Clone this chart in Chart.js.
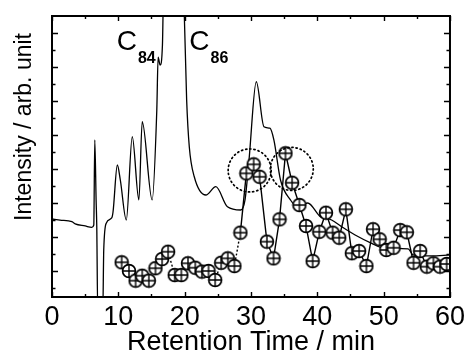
<!DOCTYPE html>
<html>
<head>
<meta charset="utf-8">
<script src="https://cdn.jsdelivr.net/npm/chart.js@4.4.1/dist/chart.umd.min.js"></script>
<style>
  html, body { margin: 0; padding: 0; background: #fff; }
  #wrap { width: 469px; height: 360px; }
</style>
</head>
<body>
<div id="wrap"><canvas id="hplc"></canvas></div>
<script>
// HPLC trace (solid line) and the fractions marked with circles
var traceTime = [0, 1.2, 3.0, 3.5, 5.0, 6.0, 6.3, 6.45, 6.65, 6.75, 6.9, 7.65, 7.8, 8.2, 9.0, 9.2, 9.85, 10.3, 11.2, 12.1,
  13.1, 13.6, 15.1, 15.8, 16.0, 16.3, 16.65, 16.8, 17.3, 18.3, 19.3, 19.95, 20.3, 20.7, 21.45, 23.2, 24.7, 26.45, 28.45, 29.1,
  29.7, 30.8, 31.95, 32.85, 33.45, 34.45, 35.95, 36.95, 38.55, 40.45, 42.15, 43.65, 45.7, 48.2, 50.2, 53.7, 54.45, 57.15, 60];
var traceSignal = [4.08, 4.02, 3.92, 3.79, 3.67, 3.59, 3.73, 8.72, 5.2, 3.63, -1.5, -1.5, 2.26, 3.85, 4.14, 4.49, 7.25, 6.37, 4.02, 8.91,
  5.2, 9.79, 5.2, 10.48, 13.59, 13.12, 14.3, 17.5, 24, 19, 28, 16.0, 11.07, 8.31, 6.56, 5.49, 5.98, 4.8, 4.61, 5.2,
  7.54, 12.14, 9.5, 9.41, 8.72, 6.37, 5.2, 4.8, 5.02, 4.22, 4.02, 3.63, 3.14, 2.65, 2.36, 2.32, 1.97, 1.91, 1.97];

var fracTime = [10.5, 11.6, 12.6, 13.6, 14.6, 15.6, 16.6, 17.5, 18.5, 19.5, 20.5, 21.6, 22.6, 23.6, 24.6, 25.5, 26.5, 27.5, 28.4, 29.3,
  30.4, 31.3, 32.4, 33.4, 34.3, 35.2, 36.2, 37.3, 38.3, 39.3, 40.3, 41.3, 42.3, 43.3, 44.3, 45.2, 46.3, 47.4, 48.4, 49.4,
  50.4, 51.5, 52.5, 53.5, 54.5, 55.5, 56.5, 57.5, 58.5, 59.5];
var fracSignal = [1.54, 1.03, 0.46, 0.75, 0.46, 1.19, 1.73, 2.16, 0.79, 0.79, 1.48, 1.22, 0.99, 1.03, 0.5, 1.51, 1.77, 1.32, 3.28, 6.76,
  7.29, 6.56, 2.75, 1.77, 4.06, 7.94, 6.21, 4.9, 3.67, 1.61, 3.33, 4.45, 3.28, 2.98, 4.65, 2.07, 2.2, 1.32, 3.48, 2.89,
  2.26, 2.39, 3.43, 3.3, 1.51, 2.2, 1.28, 1.48, 1.28, 1.44];

// dotted circles around the two collected peaks
var ringTime = [29.8, 36.15];
var ringSignal = [6.93, 7.02];

// peak labels
var peakNames = ['84', '86'];
var peakTime = [9.75, 20.7];
var peakSignal = [14.0, 14.0];

var xTicks = [0, 10, 20, 30, 40, 50, 60];

var FONT = "'Liberation Sans', Arial, Helvetica, sans-serif";

function plusMarker() {
  var c = document.createElement('canvas');
  c.width = 16; c.height = 16;
  var g = c.getContext('2d');
  g.beginPath();
  g.arc(8, 8, 6.4, 0, Math.PI * 2);
  g.fillStyle = '#fff';
  g.fill();
  g.lineWidth = 1.7;
  g.strokeStyle = '#000';
  g.stroke();
  g.beginPath();
  g.moveTo(1.5, 8); g.lineTo(14.5, 8);
  g.moveTo(8, 1.5); g.lineTo(8, 14.5);
  g.lineWidth = 1.4;
  g.stroke();
  return c;
}

var trace = traceTime.map(function (t, i) { return { x: t, y: traceSignal[i] }; });
var fracs = fracTime.map(function (t, i) { return { x: t, y: fracSignal[i] }; });

// frame, inward ticks, rings and labels
var decor = {
  id: 'decor',
  afterDatasetsDraw: function (chart) {
    var ctx = chart.ctx, a = chart.chartArea, x = chart.scales.x, y = chart.scales.y;
    ctx.save();

    // dotted rings
    ctx.strokeStyle = '#000';
    ctx.lineWidth = 1.7;
    ctx.setLineDash([1.2, 3]);
    ctx.lineCap = 'round';
    for (var i = 0; i < ringTime.length; i++) {
      ctx.beginPath();
      ctx.arc(x.getPixelForValue(ringTime[i]), y.getPixelForValue(ringSignal[i]), 21.5, 0, Math.PI * 2);
      ctx.stroke();
    }
    ctx.setLineDash([]);
    ctx.lineCap = 'butt';

    // box
    ctx.lineWidth = 2;
    ctx.strokeRect(a.left, a.top, a.right - a.left, a.bottom - a.top);

    // x ticks, every 5 min
    ctx.lineWidth = 1.4;
    ctx.beginPath();
    for (var t = 0; t <= 60; t += 5) {
      var px = Math.round(x.getPixelForValue(t)) + 0.5;
      var len = t % 10 === 0 ? 5 : 3;
      ctx.moveTo(px, a.bottom); ctx.lineTo(px, a.bottom - len);
      ctx.moveTo(px, a.top); ctx.lineTo(px, a.top + len);
    }
    // y ticks
    for (var v = 0; v <= 15; v++) {
      var py = Math.round(y.getPixelForValue(v)) + 0.5;
      var l2 = v % 2 === 1 ? 6 : 3.5;
      ctx.moveTo(a.left, py); ctx.lineTo(a.left + l2, py);
      ctx.moveTo(a.right, py); ctx.lineTo(a.right - l2, py);
    }
    ctx.stroke();

    // peak labels C84 / C86
    ctx.fillStyle = '#000';
    ctx.textBaseline = 'alphabetic';
    ctx.textAlign = 'left';
    for (var k = 0; k < peakNames.length; k++) {
      var lx = x.getPixelForValue(peakTime[k]);
      var ly = y.getPixelForValue(peakSignal[k]);
      ctx.font = '28px ' + FONT;
      ctx.fillText('C', lx, ly);
      var w = ctx.measureText('C').width;
      ctx.font = 'bold 16px ' + FONT;
      ctx.fillText(peakNames[k], lx + w + 1, ly + 13);
    }

    // y title
    ctx.save();
    ctx.translate(25, 127);
    ctx.rotate(-Math.PI / 2);
    ctx.font = '23px ' + FONT;
    ctx.textAlign = 'center';
    ctx.textBaseline = 'middle';
    ctx.fillText('Intensity / arb. unit', 0, 0);
    ctx.restore();

    ctx.restore();
  }
};

new Chart(document.getElementById('hplc'), {
  type: 'line',
  data: {
    datasets: [
      {
        label: 'fractions',
        data: fracs,
        borderColor: '#000',
        borderWidth: 1.4,
        pointStyle: plusMarker(),
        pointRadius: 6,
        segment: {
          borderDash: function (c) { return c.p0.parsed.x < 28 ? [2, 2] : undefined; }
        }
      },
      {
        label: 'trace',
        data: trace,
        borderColor: '#000',
        borderWidth: 1.3,
        pointRadius: 0,
        fill: false,
        cubicInterpolationMode: 'monotone'
      }
    ]
  },
  options: {
    responsive: true,
    maintainAspectRatio: false,
    animation: false,
    layout: { padding: { left: 52, right: 17, top: 16, bottom: 0 } },
    plugins: { legend: { display: false }, tooltip: { enabled: false } },
    scales: {
      x: {
        type: 'linear',
        min: 0,
        max: 60,
        afterFit: function (s) { s.height = 63; },
        afterBuildTicks: function (s) { s.ticks = xTicks.map(function (v) { return { value: v }; }); },
        grid: { display: false, drawTicks: false },
        border: { display: false },
        ticks: { color: '#000', padding: 4, font: { family: FONT, size: 27 }, autoSkip: false, maxRotation: 0 },
        title: {
          display: true,
          text: 'Retention Time / min',
          color: '#000',
          font: { family: FONT, size: 27 },
          padding: { top: 0, bottom: 1 }
        }
      },
      y: {
        display: false,
        min: -0.5,
        max: 16
      }
    }
  },
  plugins: [decor]
});
</script>
</body>
</html>
